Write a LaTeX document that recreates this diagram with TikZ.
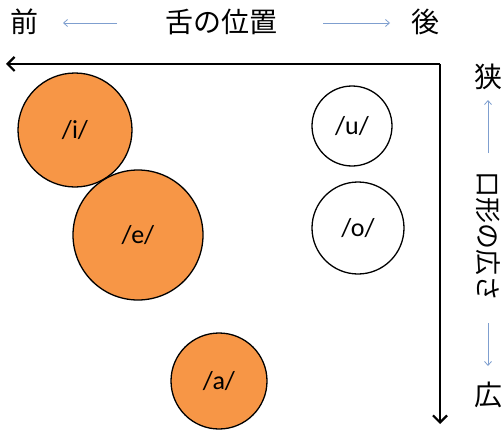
\documentclass[tikz,border=0pt]{standalone}
\usepackage{fontspec}
\setmainfont{Carlito}
\newfontfamily\jp{Noto Sans CJK JP}
\usetikzlibrary{arrows.meta}
\definecolor{vorange}{HTML}{F79646}
\definecolor{lblue}{HTML}{7F9FCF}
\tikzset{
  vowel/.style={circle, draw=black, line width=1.3pt, inner sep=0pt, font=\fontsize{26}{29}\selectfont},
  filled/.style={fill=vorange},
  axis/.style={line width=2.4pt, -{Straight Barb[length=7pt,width=14pt,line width=2.2pt]}},
  hint/.style={lblue, line width=0.8pt, -{Straight Barb[length=4pt,width=7pt]}},
  jlabel/.style={font=\jp\fontsize{28}{32}\selectfont, inner sep=0pt}
}
\begin{document}
\begin{tikzpicture}[x=1pt,y=-1pt]
\useasboundingbox (0,0) rectangle (502,433);
% top labels
\node[jlabel] (front) at (24,22) {前};
\node[jlabel] (tongue) at (221,22) {舌の位置};
\node[jlabel] (back) at (425,22) {後};
\coordinate (fa1) at (117,23); \coordinate (fa2) at (63,23);
\coordinate (ba1) at (323,23); \coordinate (ba2) at (390,23);
\draw[hint] (fa1) -- (fa2);
\draw[hint] (ba1) -- (ba2);
% axes
\coordinate (corner) at (440,64);
\coordinate (left) at (6,64);
\coordinate (bottom) at (440,424);
\draw[axis] (corner) -- (left);
\draw[axis] (corner) -- (bottom);
% right labels
\node[jlabel] (narrow) at (488,77) {狭};
\node[jlabel, rotate=-90, font=\jp\fontsize{26}{30}\selectfont] (mouth) at (488,236) {口形の広さ};
\node[jlabel] (wide) at (488,395) {広};
\coordinate (na1) at (488,153); \coordinate (na2) at (488,100);
\coordinate (wa1) at (488,323); \coordinate (wa2) at (488,366);
\draw[hint] (na1) -- (na2);
\draw[hint] (wa1) -- (wa2);
% vowels
\node[vowel, filled, minimum size=114pt] (i) at (75,130) {/i/};
\node[vowel, filled, minimum size=130pt] (e) at (138,235) {/e/};
\node[vowel, filled, minimum size=96pt] (a) at (219,381) {/a/};
\node[vowel, minimum size=80pt] (u) at (352,126) {/u/};
\node[vowel, minimum size=92pt] (o) at (358,228) {/o/};
\end{tikzpicture}
\end{document}
